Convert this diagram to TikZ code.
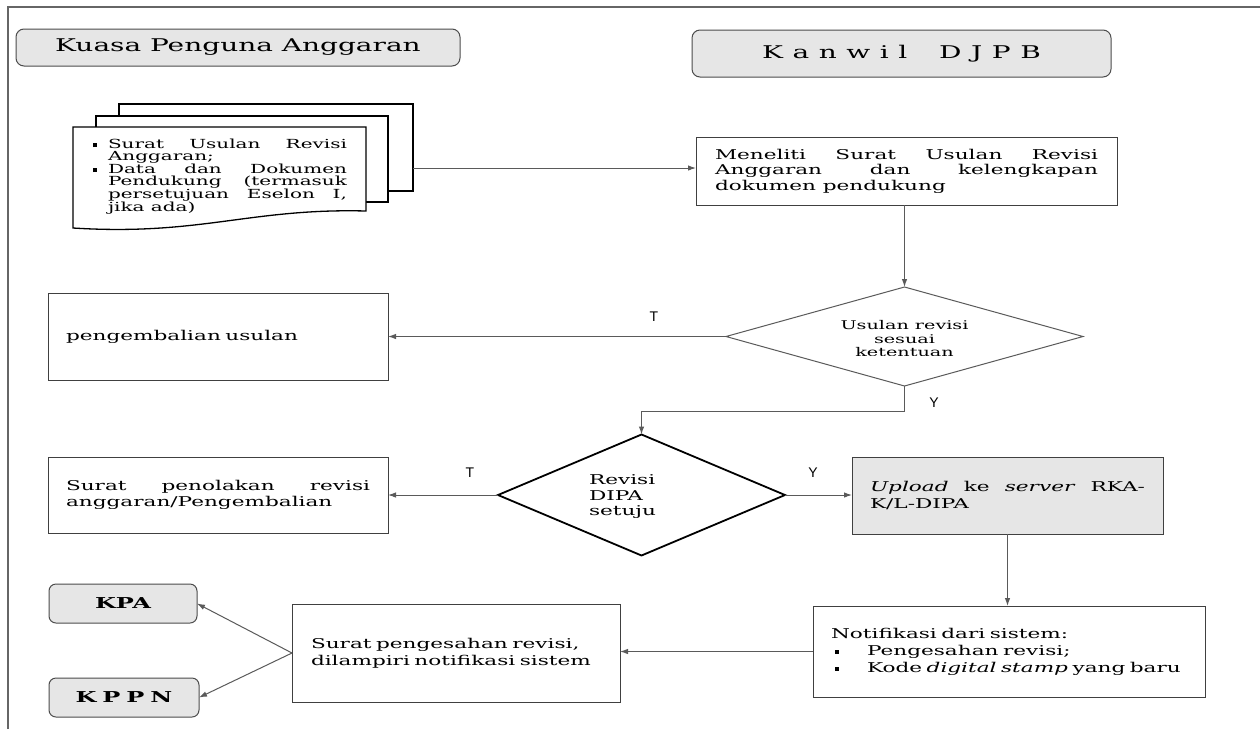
\documentclass[tikz,border=0pt]{standalone}
\usepackage{fontspec}
\setmainfont{DejaVu Serif}[FakeStretch=1.6]
\newfontfamily\tyfont{Liberation Sans}
\usetikzlibrary{arrows.meta,shapes.geometric}
\definecolor{linegray}{HTML}{5A5A5A}
\definecolor{boxgray}{HTML}{E6E6E6}
\newcommand{\sqbul}{\raisebox{1.5pt}{\rule{4pt}{4pt}}}
\newcommand{\lsp}{\hspace{9.5pt}}
\newcommand{\docbul}{\leavevmode\llap{\sqbul\hspace{11pt}}}
\begin{document}
\begin{tikzpicture}[x=1pt,y=-1pt,
  every node/.style={inner sep=0pt, outer sep=0pt},
  box/.style={draw=black!75, line width=0.9pt, rectangle, font=\fontsize{13.5}{16}\selectfont},
  header/.style={draw=black!70, line width=1pt, fill=boxgray, rounded corners=8pt, font=\fontsize{17.5}{20}\selectfont},
  smallhead/.style={draw=black!70, line width=1pt, fill=boxgray, rounded corners=7pt, font=\bfseries\fontsize{15}{18}\selectfont},
  conn/.style={draw=linegray, line width=1pt},
  arr/.style={conn, -{Latex[length=8pt,width=5.5pt]}},
  tlabel/.style={font=\tyfont\fontsize{14}{16}\selectfont},
  page/.style={draw=black, line width=1.3pt, fill=white},
]
\useasboundingbox (0,0) rectangle (1260,729);
\fill[white] (0,0) rectangle (1260,729);
% frame
\draw[black!60, line width=1.5pt] (8,729) -- (8,7) -- (1260,7);

% headers
\node[header, minimum width=444, minimum height=37] (kpahead) at (238,47.5) {Kuasa Penguna Anggaran};
\node[header, minimum width=419, minimum height=47] (kanwil) at (901.5,53.5)
  {K\lsp a\lsp n\lsp w\lsp i\lsp l\hspace{32pt}D\lsp J\lsp P\lsp B};

% document stack
\node[page, minimum width=294, minimum height=87] (back) at (266,147.5) {};
\node[page, minimum width=292, minimum height=86] (middle) at (242,159) {};
\draw[page] (73,127) -- (366,127) -- (366,211) .. controls (250,208) and (200,236) .. (73,228) -- cycle;
\node[anchor=north west, text width=239, align=justify, font=\fontsize{12.5}{11.8}\selectfont] (doctext) at (108,139)
  {\docbul Surat Usulan Revisi\linebreak Anggaran;\par
   \docbul Data dan Dokumen\linebreak Pendukung (termasuk\linebreak persetujuan Eselon I,\linebreak jika ada)};

% Meneliti
\node[box, minimum height=68, text width=383, inner xsep=19, align=justify, font=\fontsize{13.5}{15.5}\selectfont] (meneliti) at (906.5,171)
  {Meneliti Surat Usulan Revisi\linebreak Anggaran dan kelengkapan\linebreak dokumen pendukung};
\draw[arr] (back.east |- 0,168) -- (meneliti.west |- 0,168);

% decision 1
\node[diamond, draw=linegray, line width=1pt, minimum width=357, minimum height=99] (d1) at (904.5,336.5) {};
\begin{scope}
\clip (720,290) rectangle (1090,355);
\node[font=\fontsize{12}{13.5}\selectfont, align=center] (d1text) at (904.5,339) {Usulan revisi\\sesuai\\ketentuan};
\end{scope}
\draw[arr] (d1.north |- meneliti.south) -- (d1.north);

% pengembalian
\node[box, minimum height=87, text width=304, inner xsep=18, align=left] (peng) at (218,336.5) {pengembalian usulan};
\draw[arr] (d1.west) -- (peng.east);
\node[tlabel] (t1) at (654,317) {T};

% decision 2
\node[diamond, draw=black, line width=1.8pt, minimum width=287, minimum height=121] (d2) at (641.5,495) {};
\node[font=\fontsize{13.5}{15.5}\selectfont, align=left, anchor=west] (d2text) at (589,497) {Revisi\\DIPA\\setuju};
\draw[arr] (d1.south) -- ++(0,25) -| (d2.north);
\node[tlabel] (y1) at (934,403) {Y};

% penolakan
\node[box, minimum height=76, text width=304, inner xsep=18, align=justify, font=\fontsize{13.5}{16.5}\selectfont] (penolakan) at (218,495)
  {Surat penolakan revisi\linebreak anggaran/Pengembalian};
\draw[arr] (d2.west) -- (penolakan.east);
\node[tlabel] (t2) at (470,473) {T};

% upload
\node[box, fill=boxgray, minimum height=77, text width=275, inner xsep=18, align=justify, font=\fontsize{13.5}{16.5}\selectfont] (upload) at (1007.5,495.5)
  {\textit{Upload} ke \textit{server} RKA-\linebreak K/L-DIPA};
\draw[arr] (d2.east) -- (upload.west |- d2.east);
\node[tlabel] (y2) at (813,473) {Y};

% notifikasi
\node[box, minimum height=91, text width=356, inner xsep=18, align=left, font=\fontsize{13.5}{17}\selectfont] (notif) at (1009,651.5)
  {Notifikasi dari sistem:\\
   \makebox[36pt][l]{\hspace{4pt}\sqbul}Pengesahan revisi;\\
   \makebox[36pt][l]{\hspace{4pt}\sqbul}Kode \textit{digital stamp} yang baru};
\draw[arr] (upload.south) -- (upload.south |- notif.north);

% pengesahan
\node[box, minimum height=98, text width=290, inner xsep=19, align=left, font=\fontsize{13.5}{17}\selectfont] (pengesahan) at (456,653)
  {Surat pengesahan revisi,\\dilampiri notifikasi sistem};
\draw[arr] (notif.west) -- (notif.west -| pengesahan.east);

% KPA / KPPN
\node[smallhead, minimum width=148, minimum height=39] (kpa) at (123,603.5) {KPA};
\node[smallhead, minimum width=150, minimum height=39] (kppn) at (124,697.5) {K\hspace{6pt}P\hspace{6pt}P\hspace{6pt}N};
\draw[arr] (pengesahan.west) -- (kpa.east);
\draw[arr] (pengesahan.west) -- (kppn.east);
\end{tikzpicture}
\end{document}
